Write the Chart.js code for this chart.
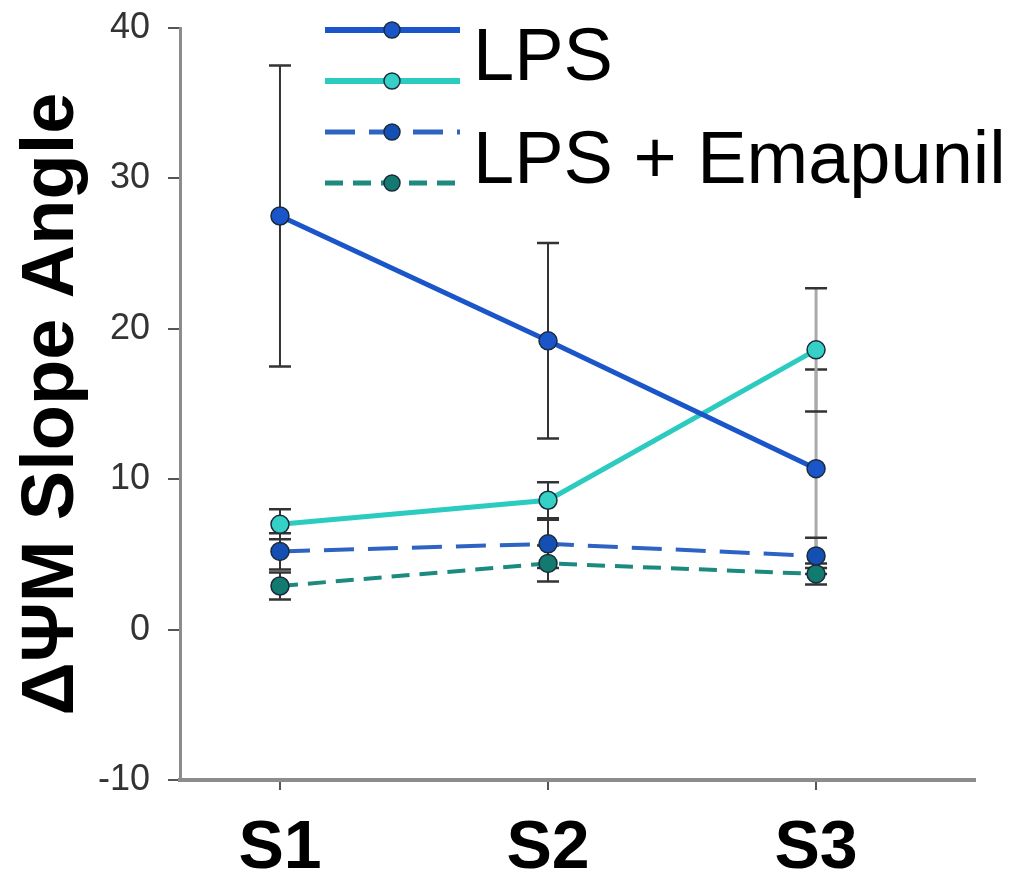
<!DOCTYPE html>
<html>
<head>
<meta charset="utf-8">
<script src="https://cdn.jsdelivr.net/npm/chart.js@4.4.1/dist/chart.umd.min.js"></script>
<style>
  html, body { margin: 0; padding: 0; background: #fff; }
  #wrap { width: 1018px; height: 878px; }
</style>
</head>
<body>
<div id="wrap"><canvas id="chart" width="1018" height="878"></canvas></div>
<script>
// data
const categories = ['S1', 'S2', 'S3'];
const yTicks = [-10, 0, 10, 20, 30, 40];

const lpsBlue = [27.5, 19.2, 10.7];
const lpsBlueErr = [10.0, 6.5, 6.6];
const lpsCyan = [7.0, 8.6, 18.6];
const lpsCyanErr = [1.0, 1.2, 4.1];
const emaBlue = [5.2, 5.7, 4.9];
const emaBlueErr = [1.2, 1.6, 1.2];
const emaTeal = [2.9, 4.4, 3.7];
const emaTealErr = [0.9, 1.2, 0.7];

const legendLabels = ['LPS', 'LPS + Emapunil'];

const FONT = "'Liberation Sans', Arial, sans-serif";
const errColors = ['#333', '#333', '#aaa'];

function pts(vals) {
  return vals.map((v, i) => ({ x: i + 1, y: v }));
}

function series(label, vals, errs, line, fill, dash, width) {
  return {
    label: label,
    data: pts(vals),
    errors: errs,
    borderColor: line,
    backgroundColor: fill,
    borderWidth: width,
    borderDash: dash,
    pointRadius: 9,
    pointBackgroundColor: fill,
    pointBorderColor: '#1b2b3b',
    pointBorderWidth: 1.5,
    tension: 0
  };
}

// error bars, drawn under the lines
const errorBars = {
  id: 'errorBars',
  beforeDatasetsDraw(chart) {
    const ctx = chart.ctx;
    const xs = chart.scales.x, ys = chart.scales.y;
    ctx.save();
    chart.data.datasets.forEach(ds => {
      ds.data.forEach((p, i) => {
        const e = ds.errors[i];
        const x = xs.getPixelForValue(p.x);
        const top = ys.getPixelForValue(p.y + e);
        const bot = ys.getPixelForValue(p.y - e);
        ctx.strokeStyle = errColors[i];
        ctx.lineWidth = i === 2 ? 3 : 2;
        ctx.beginPath();
        ctx.moveTo(x, top); ctx.lineTo(x, bot);
        ctx.stroke();
        ctx.strokeStyle = '#333';
        ctx.lineWidth = 2.5;
        ctx.beginPath();
        ctx.moveTo(x - 11, top); ctx.lineTo(x + 11, top);
        ctx.moveTo(x - 11, bot); ctx.lineTo(x + 11, bot);
        ctx.stroke();
      });
    });
    ctx.restore();
  }
};

// grouped legend: two line samples per label
const groupLegend = {
  id: 'groupLegend',
  afterDraw(chart) {
    const ctx = chart.ctx;
    const ds = chart.data.datasets;
    const rows = [30, 81, 132, 183];
    const x0 = 325, x1 = 460, mx = 392;
    ctx.save();
    ds.forEach((d, i) => {
      const y = rows[i];
      ctx.strokeStyle = d.borderColor;
      ctx.lineWidth = d.borderWidth + 1;
      ctx.setLineDash(d.borderDash);
      ctx.beginPath();
      ctx.moveTo(x0, y); ctx.lineTo(x1, y);
      ctx.stroke();
      ctx.setLineDash([]);
      ctx.beginPath();
      ctx.arc(mx, y, 8, 0, Math.PI * 2);
      ctx.fillStyle = d.pointBackgroundColor;
      ctx.fill();
      ctx.lineWidth = 1.5;
      ctx.strokeStyle = '#1b2b3b';
      ctx.stroke();
    });
    ctx.fillStyle = '#000';
    ctx.font = '74px ' + FONT;
    ctx.textBaseline = 'alphabetic';
    ctx.fillText(legendLabels[0], 473, 80);
    ctx.fillText(legendLabels[1], 473, 183);
    ctx.restore();
  }
};

new Chart(document.getElementById('chart'), {
  type: 'line',
  data: {
    datasets: [
      series('LPS', lpsBlue, lpsBlueErr, '#1a56c9', '#1a56c9', [], 5),
      series('LPS', lpsCyan, lpsCyanErr, '#2bcbc0', '#35d0c6', [], 5),
      series('LPS + Emapunil', emaBlue, emaBlueErr, '#2e63c4', '#1450b4', [30, 14], 4),
      series('LPS + Emapunil', emaTeal, emaTealErr, '#1d8a7f', '#137a70', [18, 10], 4)
    ]
  },
  options: {
    responsive: false,
    animation: false,
    layout: { padding: { top: 28, right: 43, left: 0, bottom: 0 } },
    plugins: { legend: { display: false }, tooltip: { enabled: false } },
    scales: {
      x: {
        type: 'linear',
        min: 0.627,
        max: 3.593,
        afterBuildTicks(scale) {
          scale.ticks = categories.map((c, i) => ({ value: i + 1 }));
        },
        afterFit(scale) {
          scale.height = 98;
          scale.paddingLeft = 0;
          scale.paddingRight = 0;
        },
        ticks: {
          callback: v => categories[v - 1] || '',
          font: { family: FONT, size: 68, weight: 'bold' },
          color: '#000',
          padding: 18,
          maxRotation: 0
        },
        grid: { drawOnChartArea: false, tickLength: 10, color: '#555', lineWidth: 2 },
        border: { color: '#8c8c8c', width: 4 }
      },
      y: {
        min: -10,
        max: 40,
        afterBuildTicks(scale) {
          scale.ticks = yTicks.map(v => ({ value: v }));
        },
        afterFit(scale) {
          scale.width = 180;
          scale.paddingTop = 0;
          scale.paddingBottom = 0;
        },
        ticks: {
          font: { family: FONT, size: 36 },
          color: '#333',
          padding: 18
        },
        grid: { drawOnChartArea: false, tickLength: 12, color: '#555', lineWidth: 2 },
        border: { color: '#8c8c8c', width: 3 },
        title: {
          display: true,
          text: 'ΔΨM Slope Angle',
          font: { family: FONT, size: 74, weight: 'bold' },
          color: '#000',
          padding: { top: 8, bottom: 0 }
        }
      }
    }
  },
  plugins: [errorBars, groupLegend]
});
</script>
</body>
</html>
